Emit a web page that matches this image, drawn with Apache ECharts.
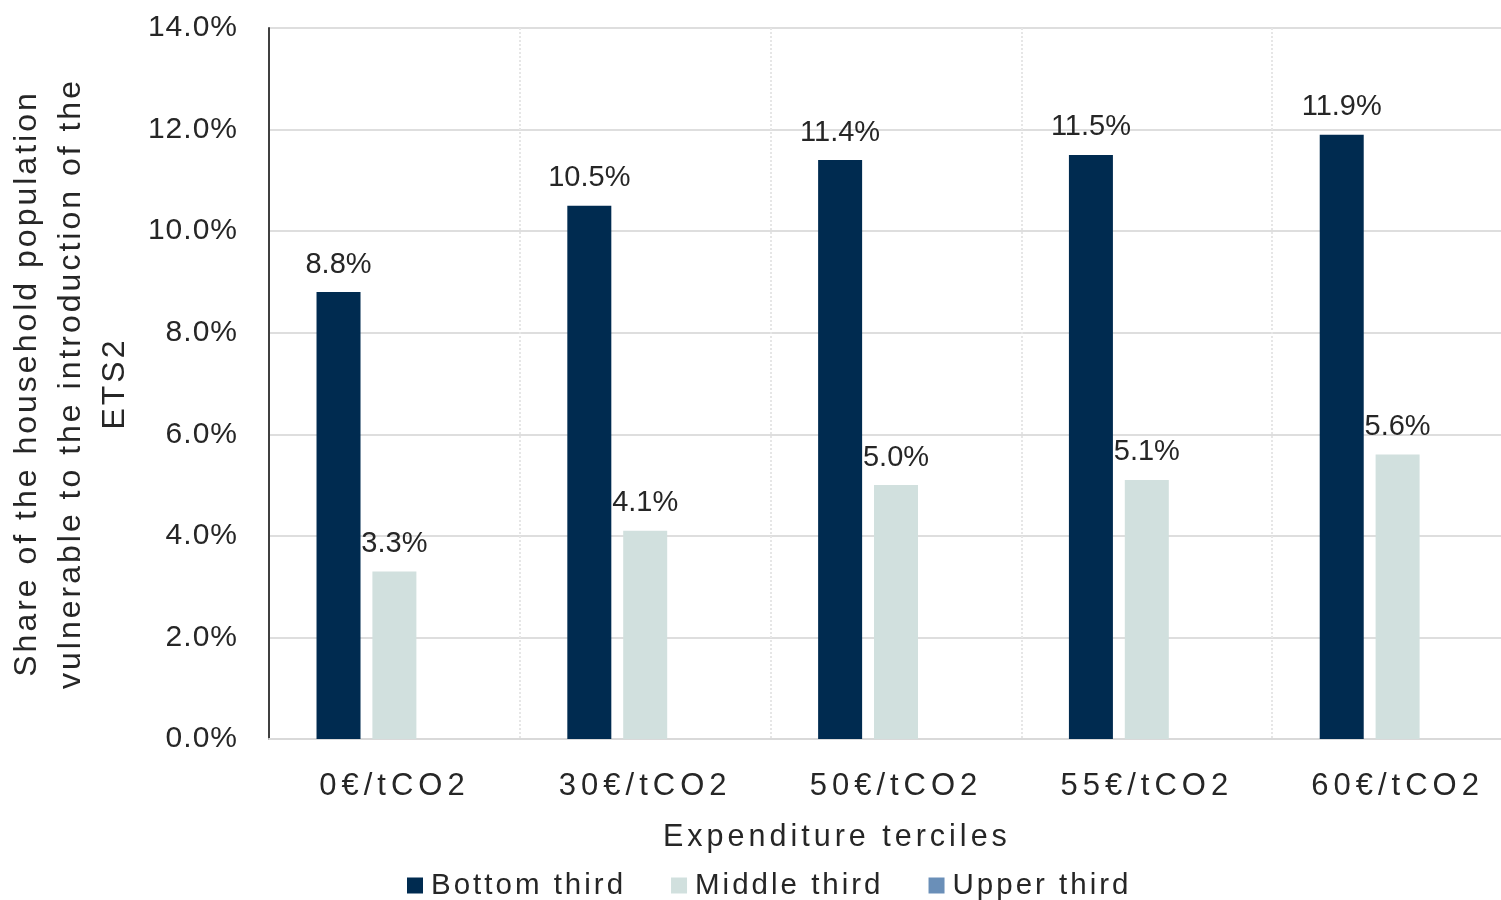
<!DOCTYPE html>
<html>
<head>
<meta charset="utf-8">
<script src="https://cdn.jsdelivr.net/npm/echarts@6/dist/echarts.min.js"></script>
<style>html,body{margin:0;padding:0;background:#fff;}#c{width:1501px;height:900px;}</style>
</head>
<body>
<div id="c"></div>
<script>
const categories = ['0€/tCO2', '30€/tCO2', '50€/tCO2', '55€/tCO2', '60€/tCO2'];
const seriesNames = ['Bottom third', 'Middle third', 'Upper third'];
const bottomThird = [8.8, 10.5, 11.4, 11.5, 11.9];
const middleThird = [3.3, 4.1, 5.0, 5.1, 5.6];
const upperThird = [null, null, null, null, null];
const yTicks = { min: 0, max: 14, interval: 2 };
const xAxisTitle = 'Expenditure terciles';
const yAxisTitle = 'Share of the household population\nvulnerable to the introduction of the\nETS2';

// letter spacing keyed by font size (the reference text is widely tracked)
const SPACING = { '30': 1, '29': 0, '31': 5, '30.5': 4, '29.5': 3, '32': 3 };
(function () {
  const proto = CanvasRenderingContext2D.prototype;
  const d = Object.getOwnPropertyDescriptor(proto, 'font');
  if (!d || !('letterSpacing' in proto)) return;
  Object.defineProperty(proto, 'font', {
    configurable: true,
    get() { return d.get.call(this); },
    set(v) {
      d.set.call(this, v);
      const m = /(\d+(?:\.\d+)?)px/.exec(v);
      const s = m ? (SPACING[String(+m[1])] || 0) : 0;
      this.letterSpacing = s + 'px';
    }
  });
})();

const FONT = '"Liberation Sans", Arial, sans-serif';
const colors = ['#002B50', '#D1E0DE', '#6A8FB8'];
const TXT = '#262626';

const chart = echarts.init(document.getElementById('c'), null, { renderer: 'canvas' });
const labelCfg = {
  show: true, position: 'top', distance: 13,
  color: TXT, fontSize: 29, fontFamily: FONT,
  formatter: p => p.value == null ? '' : p.value.toFixed(1) + '%'
};
const mk = (name, data, i) => ({
  name, type: 'bar', data,
  barWidth: 44, barGap: '27%', barCategoryGap: '38%',
  itemStyle: { color: colors[i] },
  label: labelCfg
});
chart.setOption({
  animation: false,
  backgroundColor: '#fff',
  grid: { left: 269, top: 28, right: -22, bottom: 161, containLabel: false, outerBoundsMode: 'none' },
  legend: {
    data: seriesNames, left: 402, top: 864, icon: 'rect',
    itemWidth: 16, itemHeight: 16, itemGap: 45,
    textStyle: { fontSize: 29.5, fontFamily: FONT, color: TXT, padding: [0, 0, 0, 3] }
  },
  xAxis: {
    type: 'category', data: categories,
    axisLine: { show: true, lineStyle: { color: '#d9d9d9', width: 2 } },
    axisTick: { show: false },
    axisLabel: { interval: 0, fontSize: 31, fontFamily: FONT, color: TXT, margin: 29 },
    splitLine: { show: true, interval: 0, lineStyle: { color: '#e6e6e6', type: 'dotted', width: 2 } }
  },
  yAxis: {
    type: 'value', min: yTicks.min, max: yTicks.max, interval: yTicks.interval,
    name: yAxisTitle, nameLocation: 'middle', nameRotate: 90, nameGap: 115,
    nameTextStyle: { fontSize: 32, fontFamily: FONT, color: TXT, lineHeight: 44 },
    axisLine: { show: true, lineStyle: { color: '#404040', width: 2 } },
    axisTick: { show: false },
    axisLabel: { fontSize: 30, fontFamily: FONT, color: TXT, margin: 31,
      formatter: v => v.toFixed(1) + '%' },
    splitLine: { show: true, lineStyle: { color: '#dedede', width: 2 } }
  },
  graphic: [{
    type: 'text', left: 663, top: 820,
    style: { text: xAxisTitle, fontSize: 30.5, fontFamily: FONT, fill: TXT }
  }],
  series: [mk(seriesNames[0], bottomThird, 0), mk(seriesNames[1], middleThird, 1), mk(seriesNames[2], upperThird, 2)]
});
</script>
</body>
</html>
